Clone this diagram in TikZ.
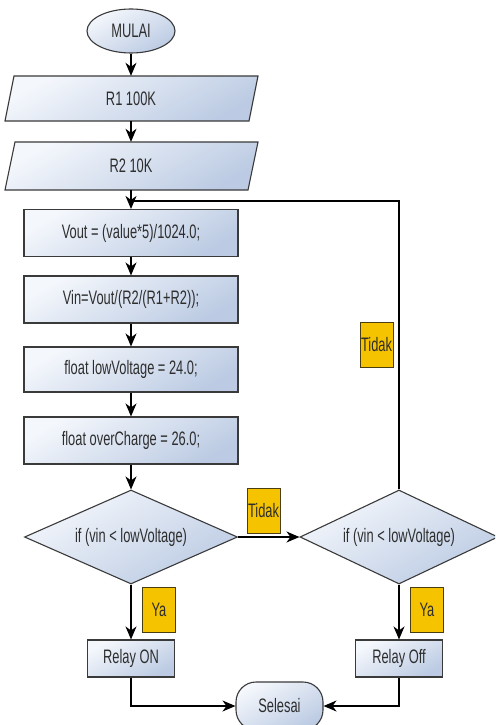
\documentclass[tikz,border=0pt]{standalone}
\usepackage{fontspec}
\setmainfont[FakeStretch=0.66]{Liberation Sans}
\usetikzlibrary{shapes.geometric,arrows.meta}
\definecolor{boxtop}{HTML}{F4F7FC}
\definecolor{boxbot}{HTML}{BCCBE3}
\definecolor{edgegray}{HTML}{3A3A3A}
\definecolor{ink}{HTML}{2E2E2E}
\definecolor{tagyellow}{HTML}{F6C300}
\definecolor{tagedge}{HTML}{4A3D10}
\begin{document}
\begin{tikzpicture}[x=1pt,y=-1pt,
  font=\fontsize{19.5}{22}\selectfont,
  boxfill/.style={top color=boxtop,bottom color=boxbot,shading angle=30,
                  draw=edgegray,line width=1.1pt},
  txt/.style={text=ink,inner sep=0pt},
  procbox/.style={boxfill,txt,rectangle,minimum width=214pt,minimum height=47pt},
  smallbox/.style={boxfill,txt,rectangle,minimum width=87pt,minimum height=37pt},
  ioslot/.style={txt,rectangle,minimum width=200pt,minimum height=#1},
  decision/.style={boxfill,txt,diamond,minimum width=#1,minimum height=94pt,aspect=2.2},
  terminal/.style={boxfill,txt,ellipse,minimum width=88pt,minimum height=44pt},
  tagbox/.style={fill=tagyellow,draw=tagedge,line width=0.8pt,text=ink,inner sep=0pt,
                 minimum width=33pt,minimum height=45pt},
  flow/.style={draw=black,line width=1.2pt,-{Stealth[length=13pt,width=11pt,inset=4pt]}},
  plain/.style={draw=black,line width=1.2pt}]
\useasboundingbox (0,0) rectangle (495,725);
\fill[white] (0,0) rectangle (495,725);
\clip (0,0) rectangle (495,725);

% start
\node[terminal] (mulai) at (131,31) {MULAI};

% input parallelograms
\path[boxfill] (14,76) -- (258,76) -- (249,121) -- (5,121) -- cycle;
\node[ioslot=45pt] (r1) at (131,98.5) {R1 100K};
\path[boxfill] (15,142) -- (258,142) -- (248,190) -- (5,190) -- cycle;
\node[ioslot=48pt] (r2) at (131,166) {R2 10K};

% processing steps
\node[procbox] (vout) at (131,233) {Vout = (value*5)/1024.0;};
\node[procbox] (vin) at (131,299.5) {Vin=Vout/(R2/(R1+R2));};
\node[procbox,minimum height=45pt] (lowv) at (131,369.5) {float lowVoltage = 24.0;};
\node[procbox] (overc) at (131,440.5) {float overCharge = 26.0;};

% decisions
\node[decision=213pt] (d1) at (131,537) {if (vin < lowVoltage)};
\node[decision=198pt] (d2) at (399,537) {if (vin < lowVoltage)};

% outputs
\node[smallbox] (ron) at (131,658.5) {Relay ON};
\node[smallbox] (roff) at (399,658.5) {Relay Off};
\node[boxfill,txt,rectangle,rounded corners=20pt,minimum width=87pt,minimum height=48pt]
  (selesai) at (279.5,706) {Selesai};

% branch labels
\node[tagbox] (t1) at (263.5,510.5) {Tidak};
\node[tagbox] (t2) at (376.5,344.5) {Tidak};
\node[tagbox] (y1) at (159,609.5) {Ya};
\node[tagbox] (y2) at (427,609.5) {Ya};

% connectors
\coordinate (loopjoin) at (131,201);
\draw[flow] (mulai) -- (r1);
\draw[flow] (r1) -- (r2);
\draw[flow] (r2) -- (vout);
\draw[flow] (vout) -- (vin);
\draw[flow] (vin) -- (lowv);
\draw[flow] (lowv) -- (overc);
\draw[flow] (overc) -- (d1);
\draw[flow] (d1) -- (d2);
\draw[plain] (d2.north) |- (loopjoin);
\draw[flow] (d1) -- (ron);
\draw[flow] (d2) -- (roff);
\draw[flow] (ron.south) |- (selesai.west);
\draw[flow] (roff.south) |- (selesai.east);
\end{tikzpicture}
\end{document}
